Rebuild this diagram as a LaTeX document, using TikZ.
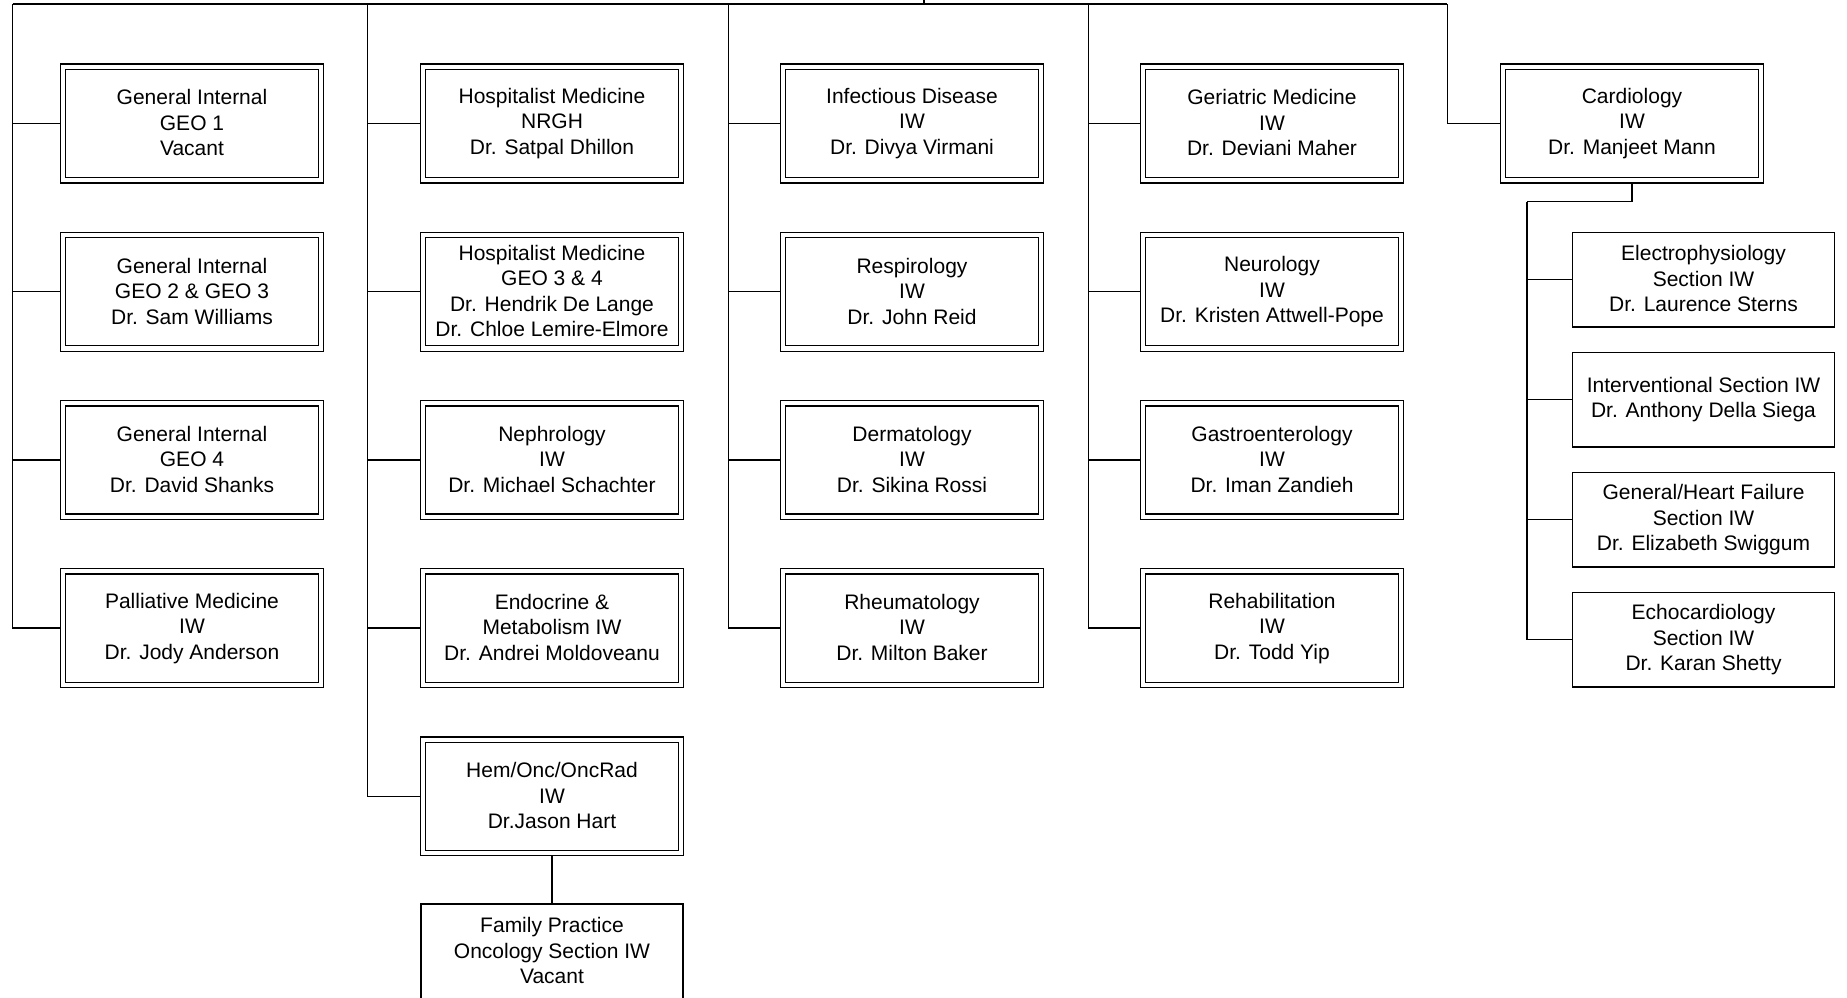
\documentclass[tikz,border=0pt]{standalone}
\usepackage{fontspec}
\setmainfont{Liberation Sans}
\newcommand\boxstrut{\rule[-0.8pt]{0pt}{12.2pt}}
\tikzset{
    unit/.style={draw, double, line width=0.65pt, double distance=2.05pt, outer sep=1.675pt,
        minimum width=129pt, minimum height=56.75pt, inner sep=0pt, align=center,
        font=\fontsize{10.5}{12.75}\selectfont,
        execute at begin node=\boxstrut, execute at end node=\boxstrut},
    section/.style={draw, line width=0.65pt, minimum width=131.1pt, minimum height=47.35pt,
        inner sep=0pt, align=center, font=\fontsize{10.5}{12.75}\selectfont,
        execute at begin node=\boxstrut, execute at end node=\boxstrut},
    link/.style={line width=0.65pt}
}
\begin{document}
\begin{tikzpicture}[x=0.5pt, y=-0.5pt]
    \clip (0,0) rectangle (1847,997);
    %Column 1
        \node[unit] (gimA) at (192,123.5) {General Internal\\GEO 1\\Vacant};
        \node[unit] (gimB) at (192,291.7) {General Internal\\GEO 2 \& GEO 3\\Dr. Sam Williams};
        \node[unit] (gimC) at (192,459.9) {General Internal\\GEO 4\\Dr. David Shanks};
        \node[unit] (pall) at (192,628.1) {Palliative Medicine\\IW\\Dr. Jody Anderson};
    %Column 2
        \node[unit] (hospA) at (552,123.5) {Hospitalist Medicine\\NRGH\\Dr. Satpal Dhillon};
        \node[unit] (hospB) at (552,291.7) {Hospitalist Medicine\\GEO 3 \& 4\\Dr. Hendrik De Lange\\Dr. Chloe Lemire-Elmore};
        \node[unit] (neph) at (552,459.9) {Nephrology\\IW\\Dr. Michael Schachter};
        \node[unit] (endo) at (552,628.1) {Endocrine \&\\Metabolism IW\\Dr. Andrei Moldoveanu};
        \node[unit] (hemonc) at (552,796.3) {Hem/Onc/OncRad\\IW\\Dr.Jason Hart};
        \node[section] (fponc) at (552,951.3) {Family Practice\\Oncology Section IW\\Vacant};
    %Column 3
        \node[unit] (infd) at (912,123.5) {Infectious Disease\\IW\\Dr. Divya Virmani};
        \node[unit] (resp) at (912,291.7) {Respirology\\IW\\Dr. John Reid};
        \node[unit] (derm) at (912,459.9) {Dermatology\\IW\\Dr. Sikina Rossi};
        \node[unit] (rheum) at (912,628.1) {Rheumatology\\IW\\Dr. Milton Baker};
    %Column 4
        \node[unit] (geri) at (1272,123.5) {Geriatric Medicine\\IW\\Dr. Deviani Maher};
        \node[unit] (neuro) at (1272,291.7) {Neurology\\IW\\Dr. Kristen Attwell-Pope};
        \node[unit] (gastro) at (1272,459.9) {Gastroenterology\\IW\\Dr. Iman Zandieh};
        \node[unit] (rehab) at (1272,628.1) {Rehabilitation\\IW\\Dr. Todd Yip};
    %Cardiology
        \node[unit] (cardio) at (1632,123.5) {Cardiology\\IW\\Dr. Manjeet Mann};
        \node[section] (ephys) at (1703.5,279.6) {Electrophysiology\\Section IW\\Dr. Laurence Sterns};
        \node[section] (interv) at (1703.5,399.6) {Interventional Section IW\\Dr. Anthony Della Siega};
        \node[section] (hfail) at (1703.5,519.6) {General/Heart Failure\\Section IW\\Dr. Elizabeth Swiggum};
        \node[section] (echo) at (1703.5,639.6) {Echocardiology\\Section IW\\Dr. Karan Shetty};
    %Buses
        \coordinate (parent) at (924,-2);
        \coordinate (busA) at (12.7,4);
        \coordinate (busB) at (367.3,4);
        \coordinate (busC) at (728.7,4);
        \coordinate (busD) at (1088.7,4);
        \coordinate (busE) at (1447.3,4);
        \coordinate (cbus) at (1527,201.7);
        \draw[link] (parent) -- (924,4);
        \draw[link] (busA) -- (busE);
    %Links
        \draw[link] (busA) |- (gimA.west);
        \draw[link] (busA) |- (gimB.west);
        \draw[link] (busA) |- (gimC.west);
        \draw[link] (busA) |- (pall.west);

        \draw[link] (busB) |- (hospA.west);
        \draw[link] (busB) |- (hospB.west);
        \draw[link] (busB) |- (neph.west);
        \draw[link] (busB) |- (endo.west);
        \draw[link] (busB) |- (hemonc.west);
        \draw[link] (hemonc) -- (fponc);

        \draw[link] (busC) |- (infd.west);
        \draw[link] (busC) |- (resp.west);
        \draw[link] (busC) |- (derm.west);
        \draw[link] (busC) |- (rheum.west);

        \draw[link] (busD) |- (geri.west);
        \draw[link] (busD) |- (neuro.west);
        \draw[link] (busD) |- (gastro.west);
        \draw[link] (busD) |- (rehab.west);

        \draw[link] (busE) |- (cardio.west);
        \draw[link] (cardio.south) |- (cbus);
        \draw[link] (cbus) |- (ephys.west);
        \draw[link] (cbus) |- (interv.west);
        \draw[link] (cbus) |- (hfail.west);
        \draw[link] (cbus) |- (echo.west);
\end{tikzpicture}
\end{document}
